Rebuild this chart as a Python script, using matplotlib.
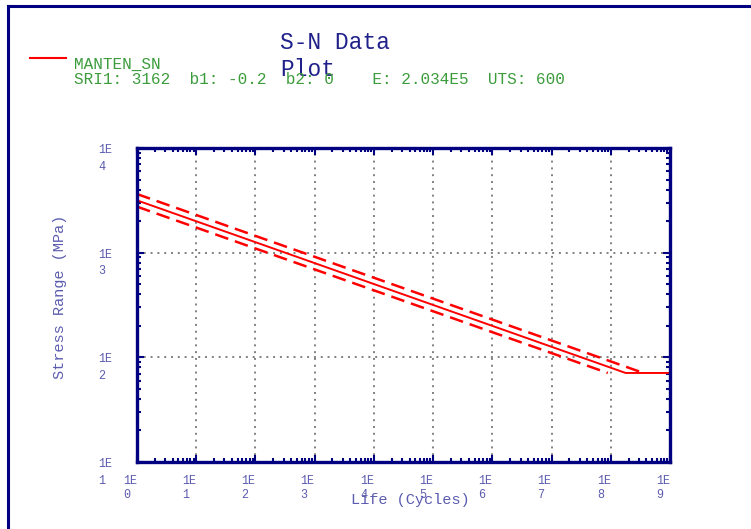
import numpy as np
import matplotlib.pyplot as plt
from matplotlib.lines import Line2D
from matplotlib.ticker import LogLocator, NullFormatter

# S-N curve for MANTEN_SN (SRI1 = 3162, b1 = -0.2, b2 = 0)
sri1 = 3162.0
b1 = -0.2
knee_life = 1.78e8
endurance = 70.9

# mean curve: sloped part down to the knee, then flat (b2 = 0)
mean_life = [1e0, knee_life, 1e9]
mean_stress = [sri1, endurance, endurance]

# scatter band: mean curve shifted by a factor of 2 in life
upper_life = [1e0, 3.56e8]
upper_stress = [3632.0, endurance]
lower_life = [1e0, 8.9e7]
lower_stress = [2753.0, endurance]

x_decades = list(range(0, 10))
y_decades = list(range(1, 5))

legend_name = "MANTEN_SN"
legend_info = "SRI1: 3162  b1: -0.2  b2: 0    E: 2.034E5  UTS: 600"

NAVY = "#000080"
LABEL_BLUE = "#5c5cb0"
GREEN = "#3c9c3c"
MONO = "Liberation Mono"

W, H = 751, 529
fig = plt.figure(figsize=(W / 100, H / 100), dpi=100)

def fx(px):
    return px / W

def fy(py):
    return 1 - py / H

# outer frame (top and left edges only are visible)
fig.add_artist(Line2D([fx(8), fx(8)], [fy(6), fy(H + 5)], color=NAVY, lw=2.2,
                      transform=fig.transFigure))
fig.add_artist(Line2D([fx(8), fx(W + 5)], [fy(6), fy(6)], color=NAVY, lw=2.2,
                      transform=fig.transFigure))

ax = fig.add_axes([fx(137), fy(462), fx(670) - fx(137), fy(148) - fy(462)])
ax.set_xscale("log")
ax.set_yscale("log")
ax.set_xlim(1e0, 1e9)
ax.set_ylim(1e1, 1e4)

ax.plot(mean_life, mean_stress, color="red", lw=1.4, solid_capstyle="butt")
ax.plot(upper_life, upper_stress, color="red", lw=1.8, ls=(0, (5.5, 2.8)))
ax.plot(lower_life, lower_stress, color="red", lw=1.8, ls=(0, (5.5, 2.8)))

for s in ax.spines.values():
    s.set_color(NAVY)
    s.set_linewidth(2.4)

ax.xaxis.set_major_locator(LogLocator(base=10, numticks=20))
ax.yaxis.set_major_locator(LogLocator(base=10, numticks=20))
ax.xaxis.set_minor_locator(LogLocator(base=10, subs=np.arange(2, 10), numticks=20))
ax.yaxis.set_minor_locator(LogLocator(base=10, subs=np.arange(2, 10), numticks=20))
ax.xaxis.set_minor_formatter(NullFormatter())
ax.yaxis.set_minor_formatter(NullFormatter())
ax.tick_params(which="both", direction="in", top=True, right=True, color=NAVY,
               labelbottom=False, labelleft=False)
ax.tick_params(which="major", length=5, width=1.5)
ax.tick_params(which="minor", length=3, width=1.5)

ax.grid(True, which="major", color="#808080", ls=(0, (1, 2.5)), lw=1.4)

# two-line "1E / n" tick labels
for d in x_decades:
    ax.annotate(f"1E\n{d}", xy=(10.0 ** d, 0), xycoords=("data", "axes fraction"),
                xytext=(-14, -13), textcoords="offset pixels", ha="left", va="top",
                fontsize=8.5, family=MONO, color=LABEL_BLUE, linespacing=1.25)
for d in y_decades:
    ax.annotate(f"1E\n{d}", xy=(0, 10.0 ** d), xycoords=("axes fraction", "data"),
                xytext=(-39, 4), textcoords="offset pixels", ha="left", va="top",
                fontsize=8.5, family=MONO, color=LABEL_BLUE, linespacing=1.5)

fig.text(fx(410), fy(500), "Life (Cycles)", ha="center", va="center",
         fontsize=11, family=MONO, color=LABEL_BLUE)
fig.text(fx(60), fy(297), "Stress Range (MPa)", ha="center", va="center",
         rotation=90, fontsize=11, family=MONO, color=LABEL_BLUE)

fig.text(fx(280), fy(56), "S-N Data\nPlot", ha="left", va="center",
         fontsize=16.5, family=MONO, color="#20208a", linespacing=1.2)

# legend entry
fig.add_artist(Line2D([fx(30), fx(66)], [fy(58), fy(58)], color="red", lw=1.5,
                      transform=fig.transFigure))
fig.text(fx(74), fy(64), legend_name, ha="left", va="center",
         fontsize=11.5, family=MONO, color=GREEN)
fig.text(fx(74), fy(80), legend_info, ha="left", va="center",
         fontsize=11.5, family=MONO, color=GREEN)

fig.savefig("out.png", dpi=100)
